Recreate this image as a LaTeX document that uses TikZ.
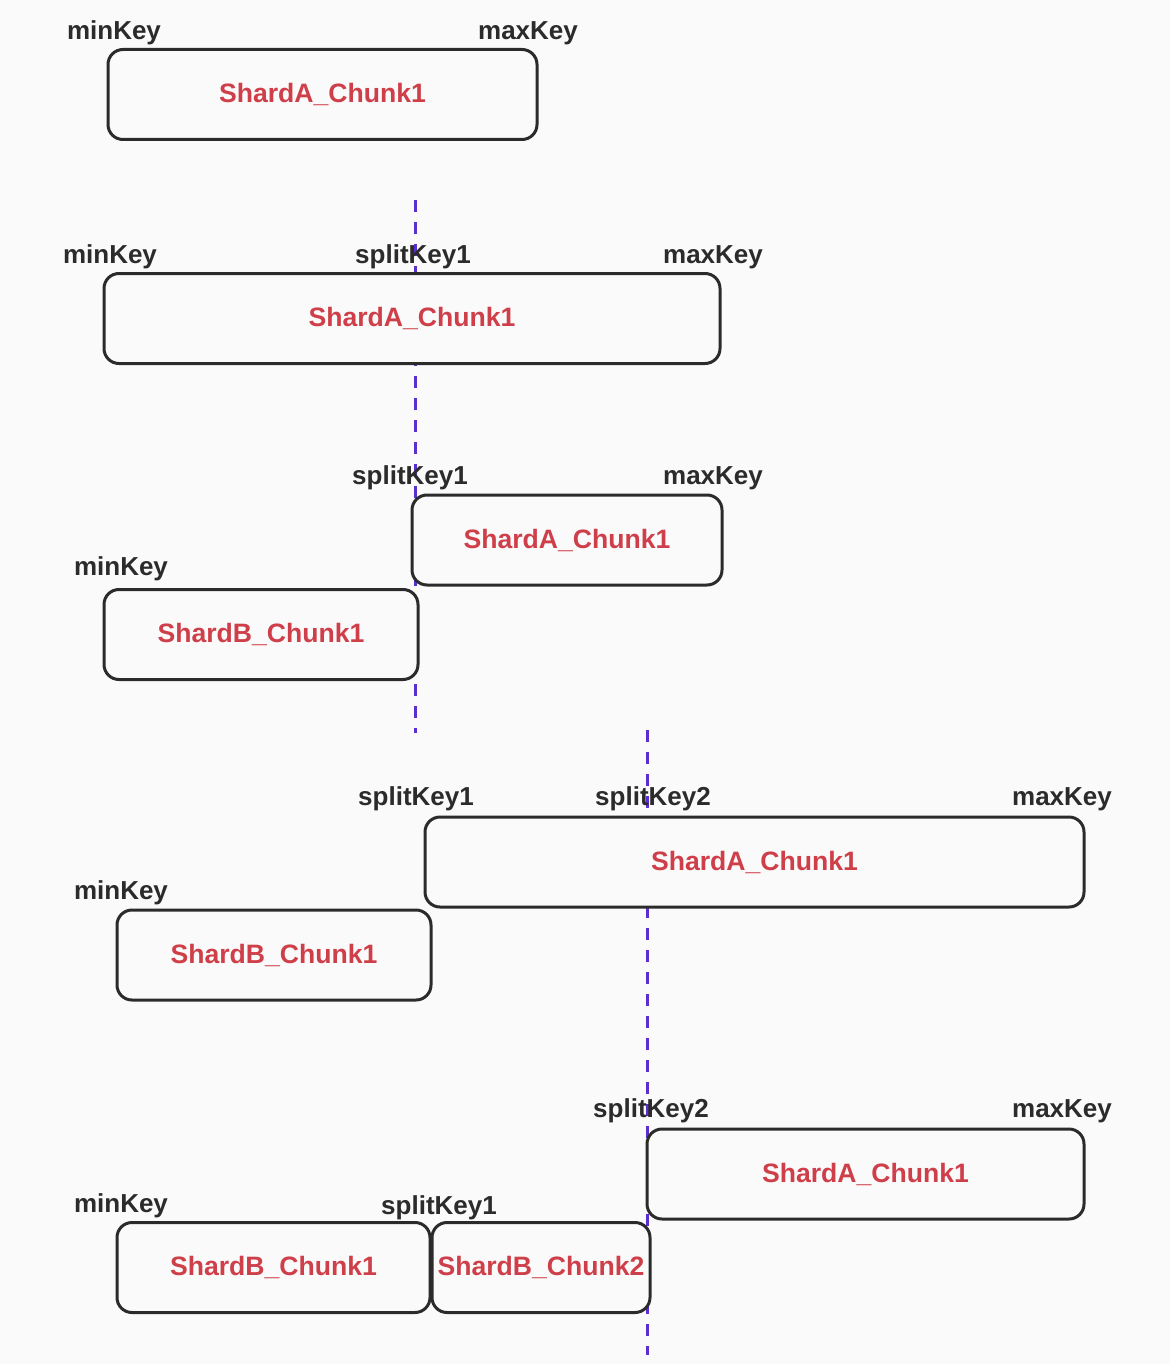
\documentclass[tikz,border=0pt]{standalone}
\usepackage{fontspec}
\setmainfont{Liberation Sans}
\usepackage{xcolor}
\usepackage{tikz}
\usetikzlibrary{positioning,calc}

\definecolor{bgcol}{HTML}{FAFAFA}
\definecolor{chunkred}{HTML}{CF3F4A}
\definecolor{keygray}{HTML}{2B2B2B}
\definecolor{splitcol}{HTML}{5A2FD0}

\begin{document}
\begin{tikzpicture}[
  x=0.5pt, y=-0.5pt,
  chunk/.style={draw=keygray, line width=1.5pt, rounded corners=7.5pt, fill=bgcol,
    inner sep=0pt, minimum height=45pt, text=chunkred,
    font=\fontsize{13.3}{16}\selectfont\bfseries},
  keylabel/.style={text=keygray, inner sep=0pt, font=\fontsize{13}{16}\selectfont\bfseries},
  splitline/.style={draw=splitcol, line width=1.5pt, dash pattern=on 6pt off 5pt}
]

% Background
\fill[bgcol] (0,0) rectangle (1170,1364);
\useasboundingbox (0,0) rectangle (1170,1364);

% Split lines
\coordinate (split1top) at (415,200);
\coordinate (split1bot) at (415,733);
\coordinate (split2top) at (647,730);
\coordinate (split2bot) at (647,1355);
\draw[splitline] (split1top) -- (split1bot);
\draw[splitline] (split2top) -- (split2bot);

% Row 1
\node[chunk, minimum width=214.5pt] (a1) at (322.5,94.5) {ShardA\_Chunk1};
\node[keylabel] (min1) at (114,33) {minKey};
\node[keylabel] (max1) at (528,33) {maxKey};

% Row 2
\node[chunk, minimum width=308pt] (a2) at (412,318.5) {ShardA\_Chunk1};
\node[keylabel] (min2) at (110,257) {minKey};
\node[keylabel] (splitA2) at (413,257) {splitKey1};
\node[keylabel] (max2) at (713,257) {maxKey};

% Row 3
\node[chunk, minimum width=155pt] (a3) at (567,540) {ShardA\_Chunk1};
\node[chunk, minimum width=157pt] (b3) at (261,634.5) {ShardB\_Chunk1};
\node[keylabel] (splitA3) at (410,478) {splitKey1};
\node[keylabel] (max3) at (713,478) {maxKey};
\node[keylabel] (min3) at (121,569) {minKey};

% Row 4
\node[chunk, minimum width=329.5pt] (a4) at (754.5,862) {ShardA\_Chunk1};
\node[chunk, minimum width=157pt] (b4) at (274,955) {ShardB\_Chunk1};
\node[keylabel] (splitA4) at (416,799) {splitKey1};
\node[keylabel] (splitB4) at (653,799) {splitKey2};
\node[keylabel] (max4) at (1062,799) {maxKey};
\node[keylabel] (min4) at (121,893) {minKey};

% Row 5
\node[chunk, minimum width=218.5pt] (a5) at (865.5,1174) {ShardA\_Chunk1};
\node[chunk, minimum width=156.5pt] (b5) at (273.5,1267.5) {ShardB\_Chunk1};
\node[chunk, minimum width=109pt] (c5) at (541,1267.5) {ShardB\_Chunk2};
\node[keylabel] (splitB5) at (651,1111) {splitKey2};
\node[keylabel] (max5) at (1062,1111) {maxKey};
\node[keylabel] (min5) at (121,1206) {minKey};
\node[keylabel] (splitA5) at (439,1208) {splitKey1};

\end{tikzpicture}
\end{document}
